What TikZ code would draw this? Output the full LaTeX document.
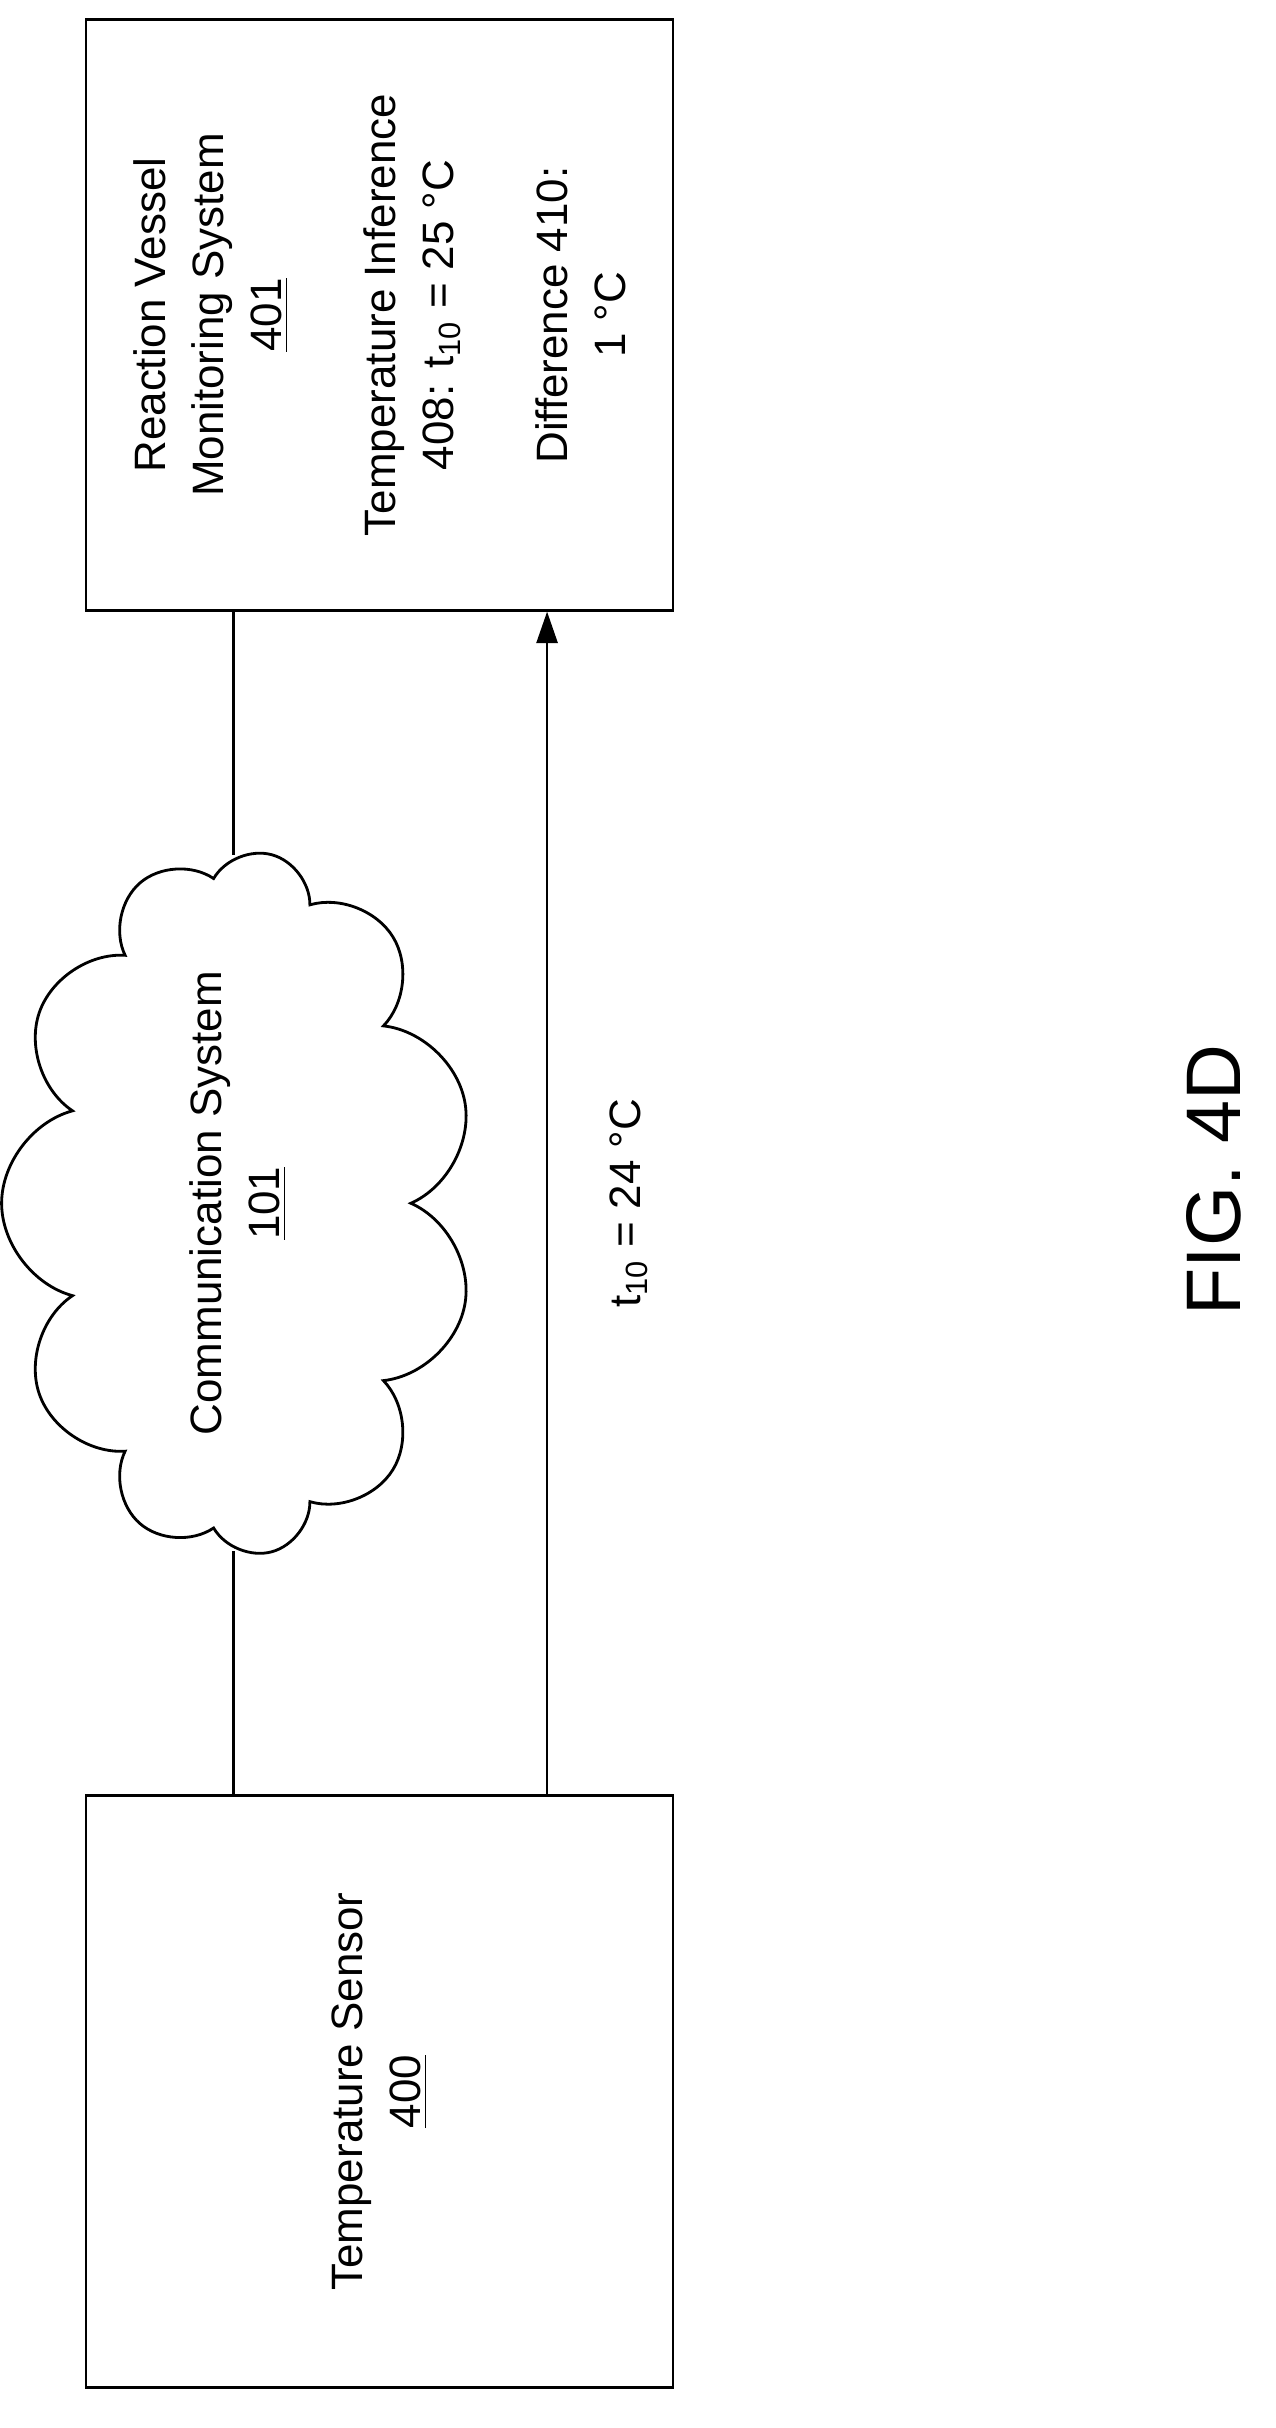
\documentclass[tikz,border=0pt]{standalone}
\usepackage{fontspec}
\setmainfont{Liberation Sans}
\usetikzlibrary{shapes.symbols,arrows.meta}
\begin{document}
\begin{tikzpicture}[x=0.01537cm,y=-0.01537cm,
  box/.style={draw,thick,minimum width=385*0.01537cm,minimum height=382*0.01537cm,rotate=90,align=center,font=\fontsize{12.5}{16.5}\selectfont},
  link/.style={thick}]
\useasboundingbox (0,0) rectangle (830,1580);

%boxes
\node[box] (mon) at (247,205) {Reaction Vessel\\Monitoring System\\\underline{401}\\[16pt]Temperature Inference\\408: t\textsubscript{10} = 25 °C\\[16pt]Difference 410:\\1 °C};
\node[box] (sen) at (247,1361) {Temperature Sensor\\\underline{400}};

%network
\node[cloud,draw,thick,cloud puffs=11,aspect=1.9,minimum width=420*0.01537cm,minimum height=215*0.01537cm,inner sep=0pt,
  rotate=90,align=center,font=\fontsize{12.5}{16.5}\selectfont] (net) at (155,783) {Communication System\\\underline{101}};

\coordinate (mt) at (152,398);
\coordinate (st) at (152,1168);
\draw[link] (mt) -- (mt |- net.east);
\draw[link] (st |- net.west) -- (st);

%message
\coordinate (ms) at (356,1168);
\coordinate (mm) at (356,398);
\draw[link,-{Triangle[length=9pt,width=6pt]}] (ms) -- (mm) node[midway,rotate=90,anchor=north,yshift=-14pt,font=\fontsize{12.5}{15}\selectfont] (msg) {t\textsubscript{10} = 24 °C};

\node[rotate=90,font=\fontsize{22}{26}\selectfont] (fig) at (790,768) {FIG. 4D};
\end{tikzpicture}
\end{document}
